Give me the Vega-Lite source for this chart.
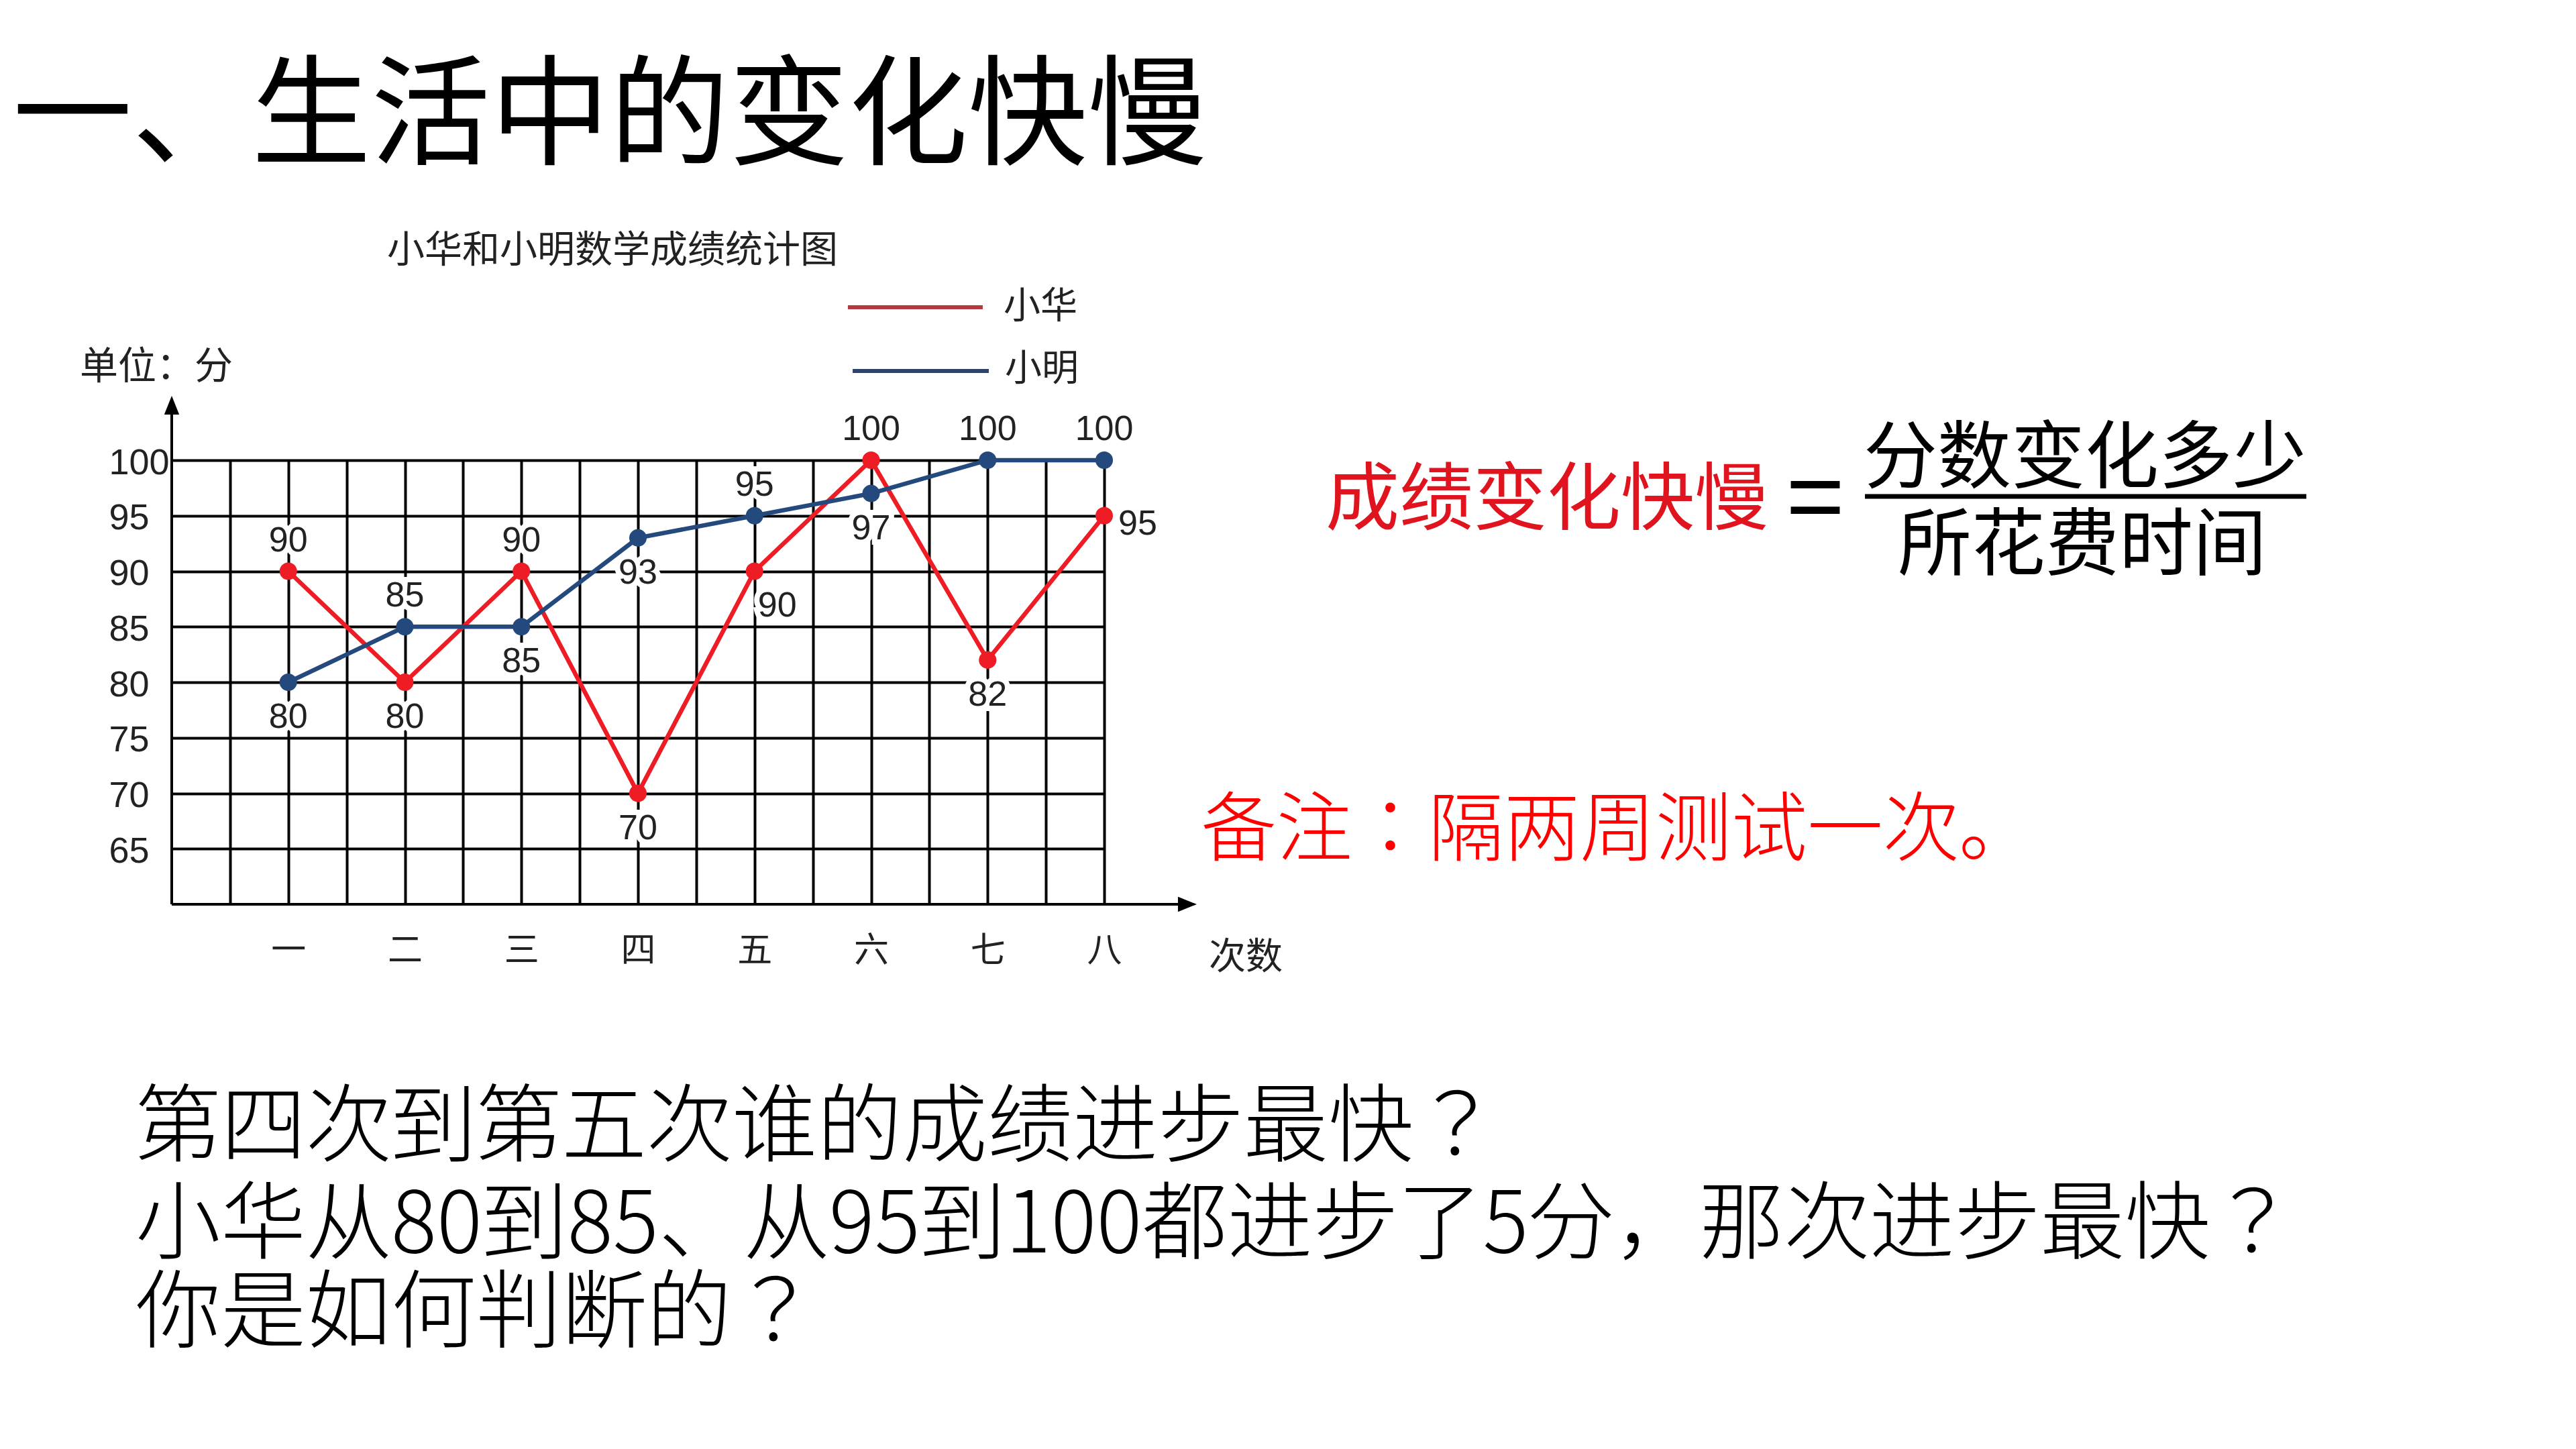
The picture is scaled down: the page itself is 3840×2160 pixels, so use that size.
{
  "$schema": "https://vega.github.io/schema/vega-lite/v6.json",
  "width": 1390,
  "height": 662,
  "autosize": {"type": "none"},
  "padding": {"left": 256, "top": 686, "right": 2194, "bottom": 812},
  "background": "white",
  "config": {
    "view": {"stroke": null},
    "font": "Noto Sans CJK SC",
    "axis": {"gridColor": "#000000", "gridWidth": 4, "gridOpacity": 1, "domain": false, "ticks": false, "title": null, "labelColor": "#222222", "labelFlush": false, "labelOverlap": false, "labelBound": false}
  },
  "data": {"values": [
    {"次数": "一", "n": 1, "姓名": "小华", "分数": 90, "标注": "上"},
    {"次数": "二", "n": 2, "姓名": "小华", "分数": 80, "标注": "下"},
    {"次数": "三", "n": 3, "姓名": "小华", "分数": 90, "标注": "上"},
    {"次数": "四", "n": 4, "姓名": "小华", "分数": 70, "标注": "下"},
    {"次数": "五", "n": 5, "姓名": "小华", "分数": 90, "标注": "右下"},
    {"次数": "六", "n": 6, "姓名": "小华", "分数": 100, "标注": "上"},
    {"次数": "七", "n": 7, "姓名": "小华", "分数": 82, "标注": "下"},
    {"次数": "八", "n": 8, "姓名": "小华", "分数": 95, "标注": "右"},
    {"次数": "一", "n": 1, "姓名": "小明", "分数": 80, "标注": "下"},
    {"次数": "二", "n": 2, "姓名": "小明", "分数": 85, "标注": "上"},
    {"次数": "三", "n": 3, "姓名": "小明", "分数": 85, "标注": "下"},
    {"次数": "四", "n": 4, "姓名": "小明", "分数": 93, "标注": "下"},
    {"次数": "五", "n": 5, "姓名": "小明", "分数": 95, "标注": "上"},
    {"次数": "六", "n": 6, "姓名": "小明", "分数": 97, "标注": "下"},
    {"次数": "七", "n": 7, "姓名": "小明", "分数": 100, "标注": "上"},
    {"次数": "八", "n": 8, "姓名": "小明", "分数": 100, "标注": "上"}
  ]},
  "layer": [
    {
      "mark": {"type": "line", "strokeWidth": 6.5},
      "encoding": {
        "x": {"field": "n", "type": "quantitative", "scale": {"domain": [0, 8], "nice": false, "zero": false},
              "axis": {"values": [0.5, 1, 1.5, 2, 2.5, 3, 3.5, 4, 4.5, 5, 5.5, 6, 6.5, 7, 7.5, 8], "grid": true,
                       "labelExpr": "datum.value % 1 == 0 && datum.value > 0 ? ['','一','二','三','四','五','六','七','八'][datum.value] : ''",
                       "labelFont": "Noto Sans CJK SC", "labelFontSize": 52, "labelPadding": 69, "labelBaseline": "middle"}},
        "y": {"field": "分数", "type": "quantitative", "scale": {"domain": [60, 100], "nice": false, "zero": false},
              "axis": {"values": [65, 70, 75, 80, 85, 90, 95, 100], "grid": true, "labelAlign": "left", "labelPadding": 94, "labelOffset": 4,
                       "labelFont": "Liberation Sans Narrow, Liberation Sans", "labelFontSize": 54, "labelBaseline": "middle"}},
        "color": {"field": "姓名", "type": "nominal", "scale": {"domain": ["小华", "小明"], "range": ["#ee1c24", "#24497c"]}, "legend": null},
        "order": {"field": "n"}
      }
    },
    {
      "mark": {"type": "circle", "size": 680, "opacity": 1},
      "encoding": {
        "x": {"field": "n", "type": "quantitative"},
        "y": {"field": "分数", "type": "quantitative"},
        "color": {"field": "姓名", "type": "nominal", "legend": null}
      }
    },
    {
      "transform": [{"filter": "datum['标注'] == '上'"}],
      "encoding": {"x": {"field": "n", "type": "quantitative"}, "y": {"field": "分数", "type": "quantitative"}, "text": {"field": "分数"}},
      "layer": [
        {"mark": {"type": "text", "dy": -46, "fontSize": 52, "font": "Liberation Sans Narrow, Liberation Sans", "color": "#ffffff", "stroke": "#ffffff", "strokeWidth": 16, "baseline": "middle"}},
        {"mark": {"type": "text", "dy": -46, "fontSize": 52, "font": "Liberation Sans Narrow, Liberation Sans", "color": "#222222", "baseline": "middle"}}
      ]
    },
    {
      "transform": [{"filter": "datum['标注'] == '下'"}],
      "encoding": {"x": {"field": "n", "type": "quantitative"}, "y": {"field": "分数", "type": "quantitative"}, "text": {"field": "分数"}},
      "layer": [
        {"mark": {"type": "text", "dy": 52, "fontSize": 52, "font": "Liberation Sans Narrow, Liberation Sans", "color": "#ffffff", "stroke": "#ffffff", "strokeWidth": 16, "baseline": "middle"}},
        {"mark": {"type": "text", "dy": 52, "fontSize": 52, "font": "Liberation Sans Narrow, Liberation Sans", "color": "#222222", "baseline": "middle"}}
      ]
    },
    {
      "transform": [{"filter": "datum['标注'] == '右下'"}],
      "encoding": {"x": {"field": "n", "type": "quantitative"}, "y": {"field": "分数", "type": "quantitative"}, "text": {"field": "分数"}},
      "layer": [
        {"mark": {"type": "text", "dx": 34, "dy": 51, "fontSize": 52, "font": "Liberation Sans Narrow, Liberation Sans", "color": "#ffffff", "stroke": "#ffffff", "strokeWidth": 16, "baseline": "middle"}},
        {"mark": {"type": "text", "dx": 34, "dy": 51, "fontSize": 52, "font": "Liberation Sans Narrow, Liberation Sans", "color": "#222222", "baseline": "middle"}}
      ]
    },
    {
      "transform": [{"filter": "datum['标注'] == '右'"}],
      "encoding": {"x": {"field": "n", "type": "quantitative"}, "y": {"field": "分数", "type": "quantitative"}, "text": {"field": "分数"}},
      "layer": [
        {"mark": {"type": "text", "dx": 50, "dy": 12, "fontSize": 52, "font": "Liberation Sans Narrow, Liberation Sans", "color": "#ffffff", "stroke": "#ffffff", "strokeWidth": 16, "baseline": "middle"}},
        {"mark": {"type": "text", "dx": 50, "dy": 12, "fontSize": 52, "font": "Liberation Sans Narrow, Liberation Sans", "color": "#222222", "baseline": "middle"}}
      ]
    },
    {
      "data": {"values": [{}]},
      "mark": {"type": "rule", "color": "#000000", "strokeWidth": 4},
      "encoding": {"x": {"datum": 0}, "y": {"datum": 60}, "y2": {"datum": 104.5}}
    },
    {
      "data": {"values": [{}]},
      "mark": {"type": "rule", "color": "#000000", "strokeWidth": 4},
      "encoding": {"x": {"datum": 0}, "x2": {"datum": 8.65}, "y": {"datum": 60}}
    },
    {
      "data": {"values": [{}]},
      "mark": {"type": "point", "shape": "M0,0L0.8,2L-0.8,2Z", "size": 784, "filled": true, "color": "#000000", "opacity": 1},
      "encoding": {"x": {"datum": 0}, "y": {"datum": 105.8}}
    },
    {
      "data": {"values": [{}]},
      "mark": {"type": "point", "shape": "M0,0L-2,-0.8L-2,0.8Z", "size": 784, "filled": true, "color": "#000000", "opacity": 1},
      "encoding": {"x": {"datum": 8.794}, "y": {"datum": 60}}
    },
    {
      "data": {"values": [{}]},
      "mark": {"type": "rule", "color": "#b3393f", "strokeWidth": 6},
      "encoding": {"x": {"datum": 5.801}, "x2": {"datum": 6.958}, "y": {"datum": 113.78}}
    },
    {
      "data": {"values": [{}]},
      "mark": {"type": "rule", "color": "#2d4470", "strokeWidth": 6},
      "encoding": {"x": {"datum": 5.842}, "x2": {"datum": 7.01}, "y": {"datum": 108.04}}
    },
    {
      "data": {"values": [{}]},
      "mark": {"type": "text", "text": "小华", "fontSize": 55, "align": "left", "baseline": "middle", "color": "#222222"},
      "encoding": {"x": {"datum": 7.137}, "y": {"datum": 113.84}}
    },
    {
      "data": {"values": [{}]},
      "mark": {"type": "text", "text": "小明", "fontSize": 55, "align": "left", "baseline": "middle", "color": "#222222"},
      "encoding": {"x": {"datum": 7.148}, "y": {"datum": 108.22}}
    },
    {
      "data": {"values": [{}]},
      "mark": {"type": "text", "text": "小华和小明数学成绩统计图", "fontSize": 56, "align": "center", "baseline": "middle", "color": "#222222"},
      "encoding": {"x": {"datum": 3.781}, "y": {"datum": 118.85}}
    },
    {
      "data": {"values": [{}]},
      "mark": {"type": "text", "text": "单位：分", "fontSize": 57, "align": "left", "baseline": "middle", "color": "#222222"},
      "encoding": {"x": {"datum": -0.788}, "y": {"datum": 108.34}}
    },
    {
      "data": {"values": [{}]},
      "mark": {"type": "text", "text": "次数", "fontSize": 55, "align": "left", "baseline": "middle", "color": "#222222"},
      "encoding": {"x": {"datum": 8.898}, "y": {"datum": 55.23}}
    },
    {
      "data": {"values": [{}]},
      "mark": {"type": "text", "text": "一、生活中的变化快慢", "fontSize": 178, "align": "left", "baseline": "middle", "color": "#000000"},
      "encoding": {"x": {"datum": -1.364}, "y": {"datum": 130.63}}
    },
    {
      "data": {"values": [{}]},
      "mark": {"type": "text", "text": "成绩变化快慢", "fontSize": 110, "align": "center", "baseline": "middle", "color": "#e0141e"},
      "encoding": {"x": {"datum": 11.799}, "y": {"datum": 96.25}}
    },
    {
      "data": {"values": [{}]},
      "mark": {"type": "text", "text": "=", "fontSize": 150, "font": "Liberation Sans", "align": "center", "baseline": "middle", "color": "#000000"},
      "encoding": {"x": {"datum": 14.101}, "y": {"datum": 96.37}}
    },
    {
      "data": {"values": [{}]},
      "mark": {"type": "text", "text": "分数变化多少", "fontSize": 110, "align": "center", "baseline": "middle", "color": "#000000"},
      "encoding": {"x": {"datum": 16.414}, "y": {"datum": 100.0}}
    },
    {
      "data": {"values": [{}]},
      "mark": {"type": "rule", "color": "#000000", "strokeWidth": 7},
      "encoding": {"x": {"datum": 14.527}, "x2": {"datum": 18.314}, "y": {"datum": 96.74}}
    },
    {
      "data": {"values": [{}]},
      "mark": {"type": "text", "text": "所花费时间", "fontSize": 110, "align": "center", "baseline": "middle", "color": "#000000"},
      "encoding": {"x": {"datum": 16.391}, "y": {"datum": 92.15}}
    },
    {
      "data": {"values": [{}]},
      "mark": {"type": "text", "text": "备注：隔两周测试一次。", "fontSize": 113, "font": "Noto Sans CJK JP", "fontWeight": 300, "align": "left", "baseline": "middle", "color": "#ff0000"},
      "encoding": {"x": {"datum": 8.829}, "y": {"datum": 66.53}}
    },
    {
      "data": {"values": [{}]},
      "mark": {"type": "text", "text": "第四次到第五次谁的成绩进步最快？", "fontSize": 127, "font": "Noto Sans CJK JP", "fontWeight": 300, "align": "left", "baseline": "middle", "color": "#000000"},
      "encoding": {"x": {"datum": -0.311}, "y": {"datum": 39.7}}
    },
    {
      "data": {"values": [{}]},
      "mark": {"type": "text", "text": "小华从80到85、从95到100都进步了5分，那次进步最快？", "fontSize": 127, "font": "Noto Sans CJK JP", "fontWeight": 300, "align": "left", "baseline": "middle", "color": "#000000"},
      "encoding": {"x": {"datum": -0.311}, "y": {"datum": 30.94}}
    },
    {
      "data": {"values": [{}]},
      "mark": {"type": "text", "text": "你是如何判断的？", "fontSize": 127, "font": "Noto Sans CJK JP", "fontWeight": 300, "align": "left", "baseline": "middle", "color": "#000000"},
      "encoding": {"x": {"datum": -0.311}, "y": {"datum": 22.96}}
    }
  ]
}
